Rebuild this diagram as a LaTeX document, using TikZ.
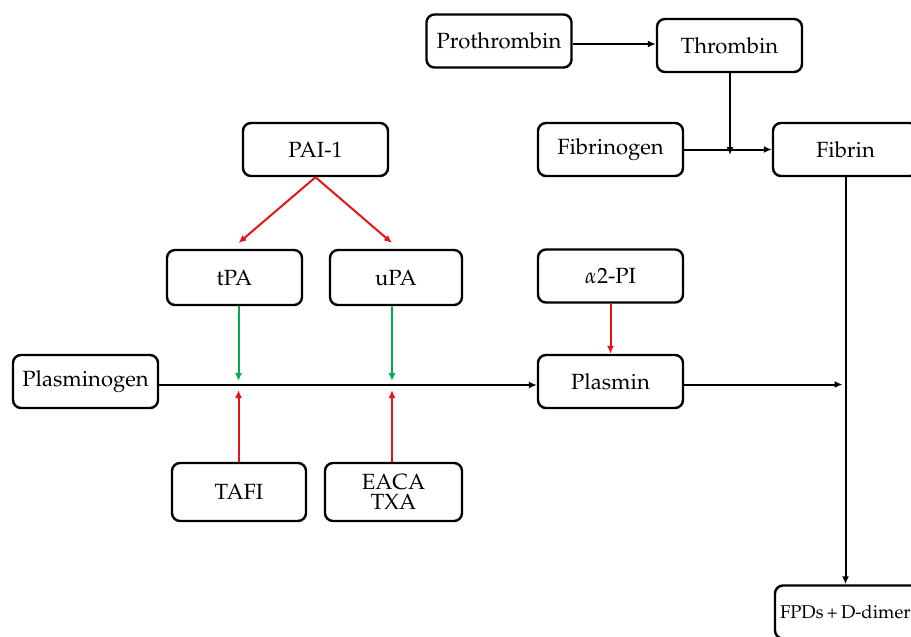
\documentclass[tikz,border=0pt]{standalone}
\usepackage[T1]{fontenc}
\usepackage{mathpazo}
\usetikzlibrary{arrows.meta}
\definecolor{myred}{RGB}{230,20,20}
\definecolor{mygreen}{RGB}{0,170,80}
\tikzset{
  box/.style={draw=black, line width=2.4pt, rounded corners=8pt, minimum width=145pt, minimum height=53pt, align=center, font=\fontsize{22}{24}\selectfont, inner sep=2pt},
  arr/.style={line width=2pt, -{Latex[length=8pt,width=7pt]}},
  blk/.style={arr, draw=black},
  redarr/.style={arr, draw=myred, color=myred},
  grnarr/.style={arr, draw=mygreen, color=mygreen},
}
\begin{document}
\begin{tikzpicture}[x=1pt,y=-1pt]
\useasboundingbox (0,0) rectangle (911,637);
\clip (0,0) rectangle (911,637);
\node[box] (prothrombin) at (499,41) {Prothrombin};
\node[box] (thrombin) at (729.5,45.5) {Thrombin};
\node[box] (fibrinogen) at (610.5,149.5) {Fibrinogen};
\node[box] (fibrin) at (845.5,149.5) {Fibrin};
\node[box] (pai) at (315.5,149.5) {PAI-1};
\node[box, minimum width=135pt, minimum height=55pt] (tpa) at (234.5,277.5) {tPA};
\node[box, minimum width=132pt, minimum height=55pt] (upa) at (396,277.5) {uPA};
\node[box] (a2pi) at (610.5,276) {$\alpha$2-PI};
\node[box] (plasminogen) at (85.5,381.5) {Plasminogen};
\node[box] (plasmin) at (610.5,381.5) {Plasmin};
\node[box, minimum width=134pt, minimum height=58pt] (tafi) at (239,492) {TAFI};
\node[box, minimum width=137pt, minimum height=58pt] (eaca) at (393.5,492) {EACA\\[-4pt]TXA};
\node[box, font=\fontsize{18.5}{20}\selectfont, text width=135pt, align=left, inner sep=5pt, minimum height=53pt] (fpd) at (847.5,612) {FPDs\,+\,D-dimer};

\coordinate (jtop) at (730,150);
\coordinate (jt) at (238.5,381);
\coordinate (jtb) at (238.5,390);
\coordinate (ju) at (392,381);
\coordinate (jub) at (392,390);
\coordinate (jright) at (845.5,384.5);
\coordinate (pa) at (238.5,243);
\coordinate (ua) at (392,243);

\draw[blk] (prothrombin.east |- 0,44) -- (thrombin.west |- 0,44);
\draw[blk] (thrombin.south -| jtop) -- ([yshift=-5pt]jtop);
\draw[blk] (fibrinogen.east) -- (fibrin.west);
\draw[blk] (fibrin.south) -- (fibrin.south |- fpd.north);
\draw[blk] (plasminogen.east |- 0,385) -- (plasmin.west |- 0,385);
\draw[blk] (plasmin.east |- 0,384.5) -- ([xshift=-3pt]jright);

\draw[redarr] (pai.south) -- (pa);
\draw[redarr] (pai.south) -- (ua);
\draw[grnarr] (tpa.south -| jt) -- (jt);
\draw[grnarr] (upa.south -| ju) -- (ju);
\draw[redarr] (tafi.north -| jtb) -- (jtb);
\draw[redarr] (eaca.north -| jub) -- (jub);
\draw[redarr] (a2pi.south) -- (plasmin.north);
\end{tikzpicture}
\end{document}
